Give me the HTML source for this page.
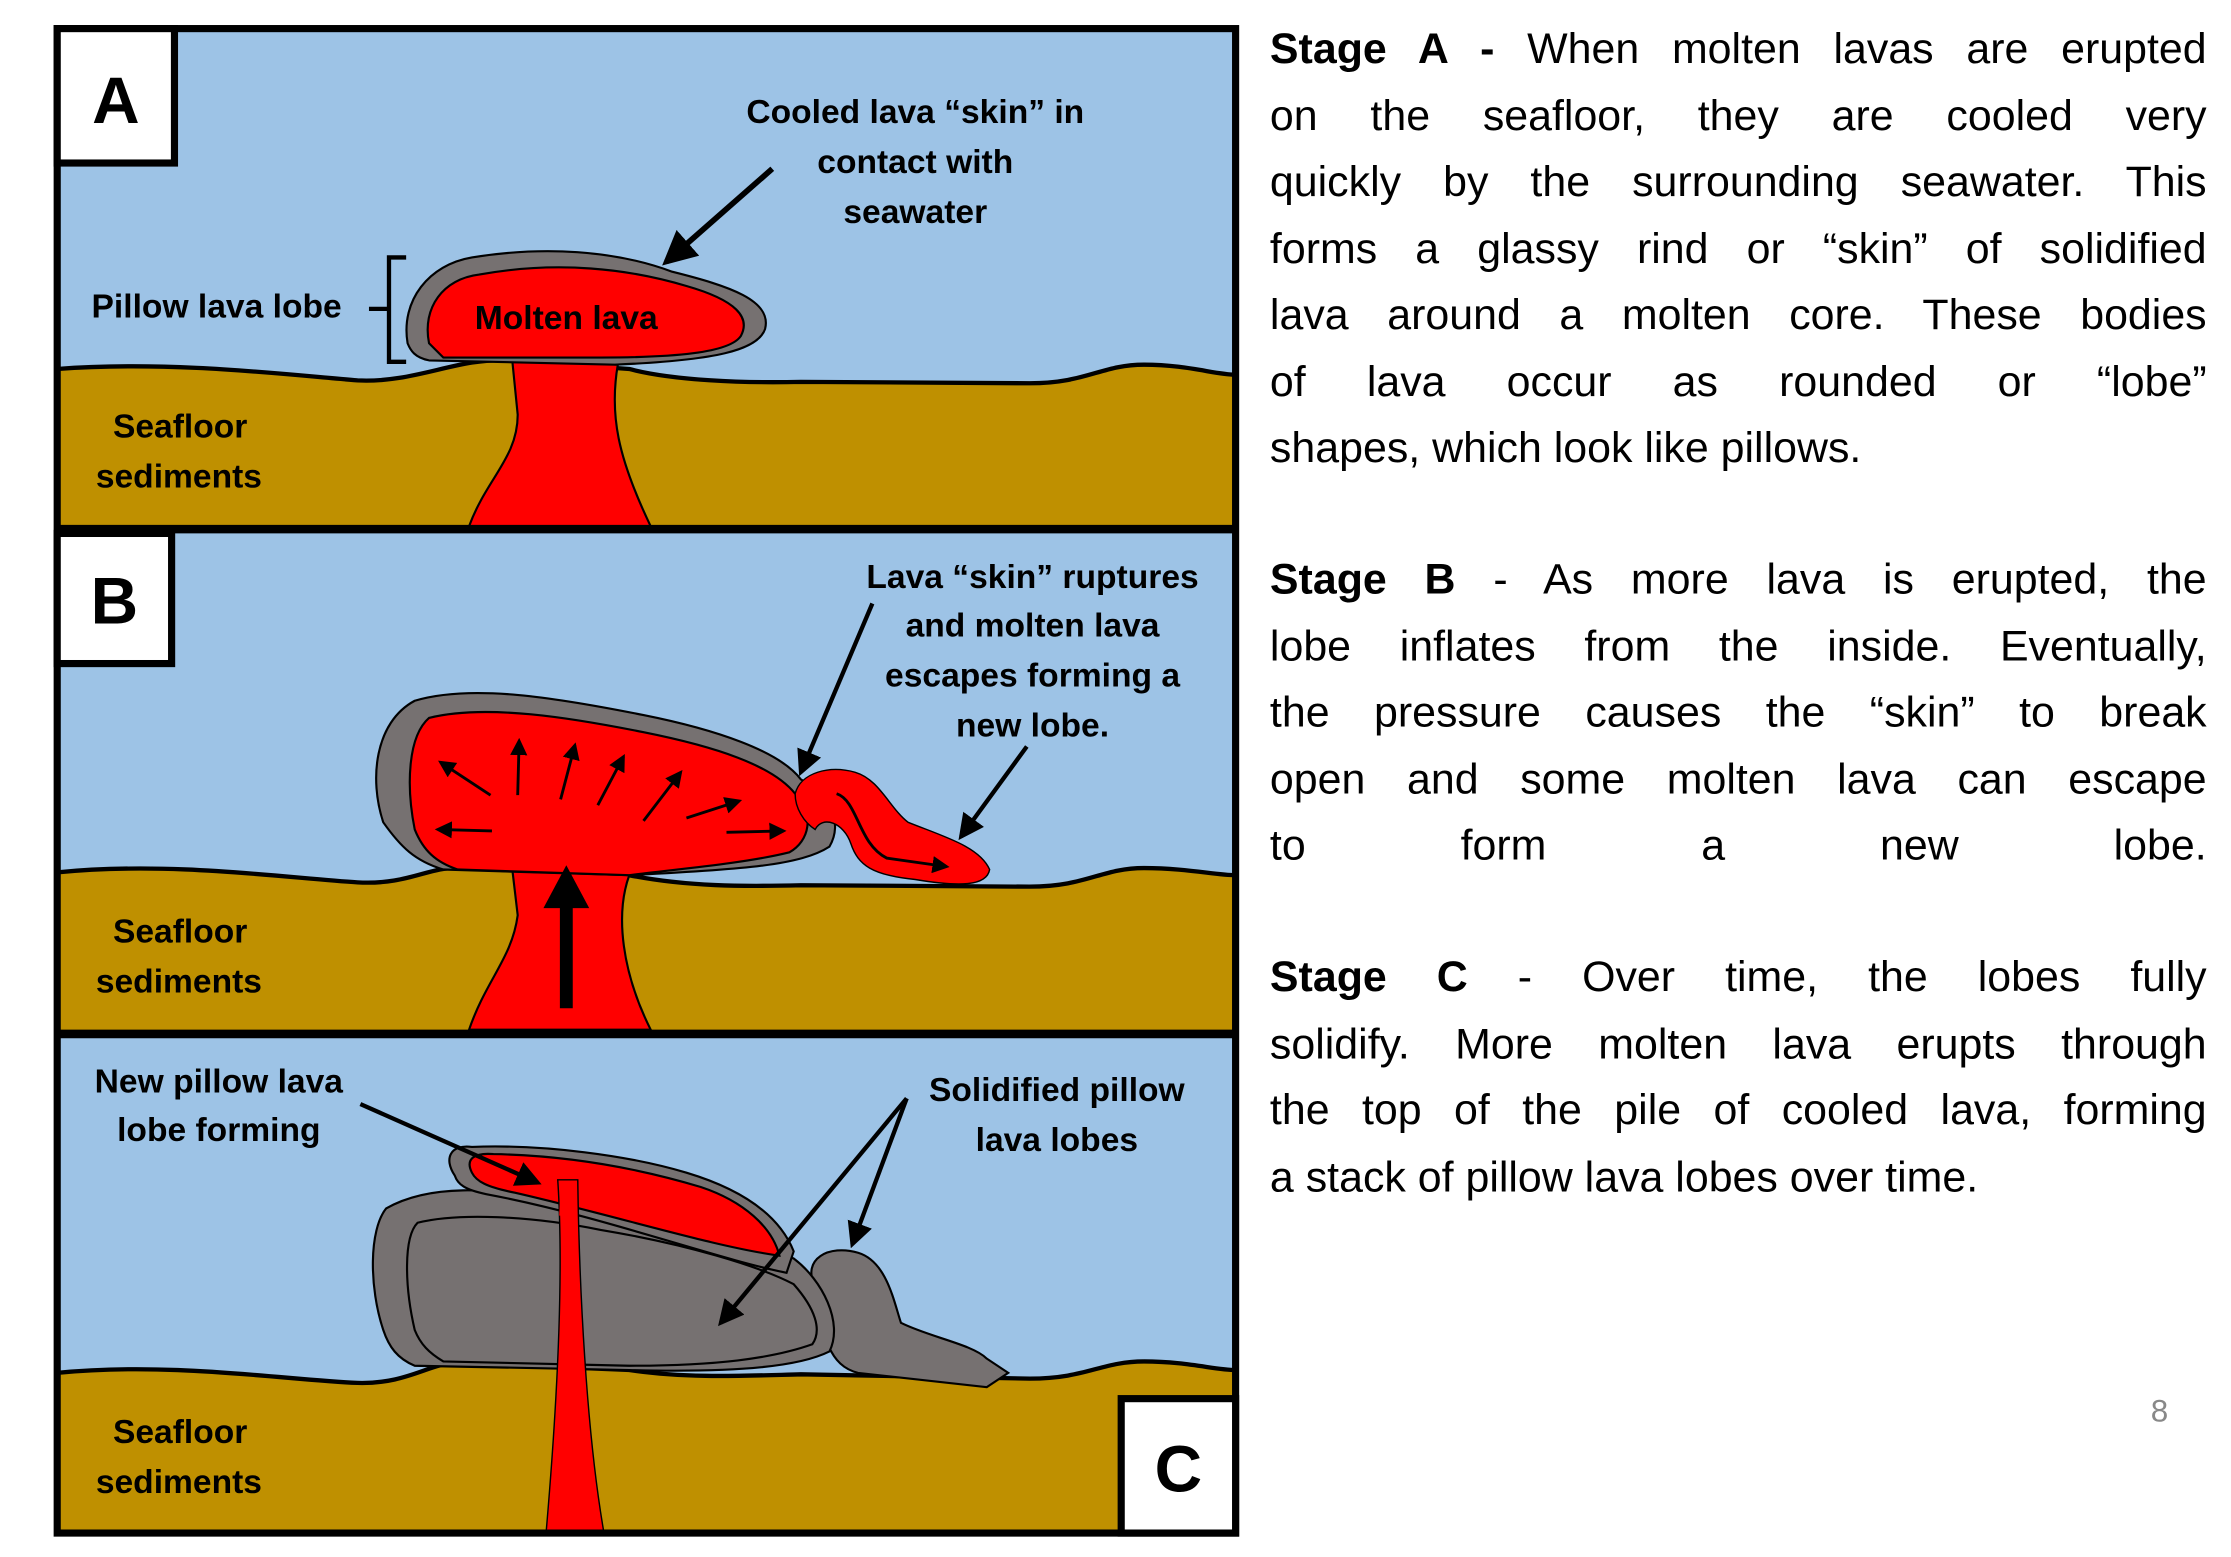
<!DOCTYPE html>
<html><head><meta charset="utf-8"><style>
html,body{margin:0;padding:0;background:#fff;width:2231px;height:1557px;overflow:hidden}
#w{position:absolute;left:0;top:0;width:1560px;height:1089px;transform:scale(1.4301);transform-origin:0 0}
svg{position:absolute;left:0;top:0}
.t{position:absolute;left:888px;width:655px;font-family:"Liberation Sans",sans-serif;font-size:30px;color:#000}
.t div{height:46.5px;line-height:46.5px;white-space:nowrap}
.j{text-align:justify;text-align-last:justify}
svg text{font-family:"Liberation Sans",sans-serif;font-weight:bold;font-size:23.5px}
</style></head><body><div id="w">
<svg width="1560" height="1089" viewBox="0 0 1560 1089">
<defs><marker id="ah" markerWidth="6" markerHeight="6" refX="5" refY="3" orient="auto" markerUnits="strokeWidth"><path d="M0,0 L6,3 L0,6Z" fill="#000"/></marker></defs>
<!-- Panel A -->
<rect x="40" y="20" width="824" height="350" fill="#9dc3e6"/>
<path d="M40,258 C120,252 200,262 250,266 C290,268 320,250 355,252 L440,258 C470,266 520,268 560,267 L720,268 C760,268 770,255 800,255 C830,255 850,262 864,262 L864,370 L40,370Z" fill="#bf9000" stroke="#000" stroke-width="3"/>
<path d="M328,368 C340,335 362,320 362,290 L358,250 L432,255 C426,290 432,320 455,368Z" fill="#f00" stroke="#000" stroke-width="1.5"/>
<path d="M285,240 C280,210 300,185 330,180 C380,172 430,175 470,190 C510,200 540,210 535,230 C530,245 500,252 430,255 L300,252 C290,250 287,245 285,240Z" fill="#767171" stroke="#000" stroke-width="1.5"/>
<path d="M300,240 C295,215 310,195 335,192 C390,182 440,188 480,200 C515,210 525,222 518,235 C510,247 470,250 420,250 L310,250Z" fill="#f00" stroke="#000" stroke-width="1.5"/>
<path d="M284,180 L272,180 L272,253 L284,253 M272,216 L258,216" fill="none" stroke="#000" stroke-width="3"/>
<text x="64" y="222">Pillow lava lobe</text>
<text x="332" y="230">Molten lava</text>
<text x="640" y="86" text-anchor="middle">Cooled lava “skin” in</text>
<text x="640" y="121" text-anchor="middle">contact with</text>
<text x="640" y="156" text-anchor="middle">seawater</text>
<line x1="540" y1="118" x2="466" y2="183" stroke="#000" stroke-width="4" marker-end="url(#ah)"/>
<text x="79" y="306">Seafloor</text><text x="67" y="341">sediments</text>
<!-- Panel B -->
<rect x="40" y="372" width="824" height="350" fill="#9dc3e6"/>
<path d="M40,610 C120,602 200,614 250,617 C285,619 300,606 320,607 L440,612 C480,620 520,620 560,619 L720,620 C760,620 770,607 800,607 C830,607 850,612 864,612 L864,722 L40,722Z" fill="#bf9000" stroke="#000" stroke-width="3"/>
<path d="M328,720 C340,685 358,670 362,640 L358,606 L440,612 C430,640 435,680 455,720Z" fill="#f00" stroke="#000" stroke-width="1.5"/>
<path d="M268,575 C258,545 262,505 290,490 C330,478 390,488 450,500 C500,510 545,525 560,545 C580,555 590,575 580,592 C560,605 520,608 440,612 L310,608 C290,602 280,592 268,575Z" fill="#767171" stroke="#000" stroke-width="1.5"/>
<path d="M290,580 C284,550 285,515 300,502 C340,492 400,502 450,512 C500,522 540,535 556,555 C570,570 566,588 552,596 C520,604 470,608 440,612 L320,608 C305,603 296,595 290,580Z" fill="#f00" stroke="#000" stroke-width="1.5"/>
<path d="M556,555 C560,540 580,535 598,540 C615,545 622,565 635,575 C660,585 685,592 692,608 C690,620 670,620 640,615 C610,612 600,605 595,590 C590,575 575,570 570,580 C562,575 556,565 556,555Z" fill="#f00" stroke="#000" stroke-width="1"/>
<g stroke="#000" stroke-width="2" marker-end="url(#ah)">
<line x1="343" y1="556" x2="308" y2="533"/><line x1="344" y1="581" x2="306" y2="580"/>
<line x1="362" y1="556" x2="363" y2="518"/><line x1="392" y1="559" x2="402" y2="521"/>
<line x1="418" y1="563" x2="436" y2="529"/><line x1="450" y1="574" x2="476" y2="540"/>
<line x1="480" y1="572" x2="517" y2="560"/><line x1="508" y1="582" x2="548" y2="581"/>
<path d="M585,555 C600,560 600,590 620,600 L662,606" fill="none"/>
</g>
<line x1="396" y1="705" x2="396" y2="630" stroke="#000" stroke-width="9"/>
<path d="M380,635 L396,605 L412,635Z" fill="#000"/>
<text x="722" y="411" text-anchor="middle">Lava “skin” ruptures</text>
<text x="722" y="445" text-anchor="middle">and molten lava</text>
<text x="722" y="480" text-anchor="middle">escapes forming a</text>
<text x="722" y="515" text-anchor="middle">new lobe.</text>
<line x1="610" y1="422" x2="560" y2="540" stroke="#000" stroke-width="3" marker-end="url(#ah)"/>
<line x1="718" y1="522" x2="672" y2="585" stroke="#000" stroke-width="3" marker-end="url(#ah)"/>
<text x="79" y="659">Seafloor</text><text x="67" y="694">sediments</text>
<!-- Panel C -->
<rect x="40" y="724" width="824" height="348" fill="#9dc3e6"/>
<path d="M40,960 C120,952 200,965 250,967 C285,968 300,953 320,953 L440,958 C480,964 520,962 560,961 L720,964 C760,964 770,952 800,952 C830,952 850,958 864,958 L864,1072 L40,1072Z" fill="#bf9000" stroke="#000" stroke-width="3"/>
<path d="M570,900 C560,880 580,870 600,876 C620,882 625,910 630,925 C650,935 680,940 690,950 L705,960 L690,970 L600,960 C580,955 575,935 570,900Z" fill="#767171" stroke="#000" stroke-width="1.5"/>
<path d="M268,930 C258,900 258,860 270,845 C300,828 340,830 400,840 C460,850 520,865 555,880 C575,895 590,925 580,945 C560,955 520,960 440,958 L290,955 C278,950 272,942 268,930Z" fill="#767171" stroke="#000" stroke-width="1.5"/>
<path d="M290,930 C283,900 282,865 292,855 C320,848 370,850 420,860 C480,870 530,885 555,898 C570,915 575,930 568,940 C540,950 500,955 440,955 L310,952 C300,946 294,940 290,930Z" fill="#767171" stroke="#000" stroke-width="1.5"/>
<path d="M318,822 C310,810 315,800 330,802 C380,800 440,808 480,820 C520,832 545,850 555,875 L550,890 C500,880 420,850 340,835 C325,832 320,828 318,822Z" fill="#767171" stroke="#000" stroke-width="1.5"/>
<path d="M330,820 C325,810 332,806 345,807 C400,808 450,818 490,830 C520,840 540,858 545,878 C500,872 430,850 360,834 C340,830 333,826 330,820Z" fill="#f00" stroke="#000" stroke-width="1.5"/>
<path d="M382,1070 C388,1000 395,900 390,825 L404,825 C405,900 410,1000 422,1070Z" fill="#f00" stroke="#000" stroke-width="1"/>
<path d="M392,830 L402,830 L403,850 L391,850Z" fill="#f00"/>
<text x="153" y="764" text-anchor="middle">New pillow lava</text>
<text x="153" y="798" text-anchor="middle">lobe forming</text>
<line x1="252" y1="772" x2="376" y2="827" stroke="#000" stroke-width="3" marker-end="url(#ah)"/>
<text x="739" y="770" text-anchor="middle">Solidified pillow</text>
<text x="739" y="805" text-anchor="middle">lava lobes</text>
<line x1="634" y1="768" x2="504" y2="925" stroke="#000" stroke-width="3" marker-end="url(#ah)"/>
<line x1="634" y1="768" x2="596" y2="870" stroke="#000" stroke-width="3" marker-end="url(#ah)"/>
<text x="79" y="1009">Seafloor</text><text x="67" y="1044">sediments</text>
<!-- frames -->
<rect x="40" y="20" width="824" height="1052" fill="none" stroke="#000" stroke-width="5"/>
<line x1="40" y1="370" x2="864" y2="370" stroke="#000" stroke-width="6"/>
<line x1="40" y1="723" x2="864" y2="723" stroke="#000" stroke-width="6"/>
<rect x="40" y="20" width="82" height="94" fill="#fff" stroke="#000" stroke-width="5"/>
<rect x="40" y="373" width="80" height="91" fill="#fff" stroke="#000" stroke-width="5"/>
<rect x="784" y="978" width="80" height="94" fill="#fff" stroke="#000" stroke-width="5"/>
<text x="81" y="86" text-anchor="middle" style="font-size:46px">A</text>
<text x="80" y="436" text-anchor="middle" style="font-size:46px">B</text>
<text x="824" y="1043" text-anchor="middle" style="font-size:46px">C</text>
<text x="1510" y="994" text-anchor="middle" style="font-weight:normal;font-size:22px;fill:#888">8</text>
</svg>
<div class="t" style="top:12px">
<div class="j"><b>Stage A -</b> When molten lavas are erupted</div>
<div class="j">on the seafloor, they are cooled very</div>
<div class="j">quickly by the surrounding seawater. This</div>
<div class="j">forms a glassy rind or “skin” of solidified</div>
<div class="j">lava around a molten core. These bodies</div>
<div class="j">of lava occur as rounded or “lobe”</div>
<div>shapes, which look like pillows.</div>
</div>
<div class="t" style="top:383px">
<div class="j"><b>Stage B</b> - As more lava is erupted, the</div>
<div class="j">lobe inflates from the inside. Eventually,</div>
<div class="j">the pressure causes the “skin” to break</div>
<div class="j">open and some molten lava can escape</div>
<div class="j">to form a new lobe.</div>
</div>
<div class="t" style="top:661px">
<div class="j"><b>Stage C</b> - Over time, the lobes fully</div>
<div class="j">solidify. More molten lava erupts through</div>
<div class="j">the top of the pile of cooled lava, forming</div>
<div>a stack of pillow lava lobes over time.</div>
</div>
</div></body></html>
